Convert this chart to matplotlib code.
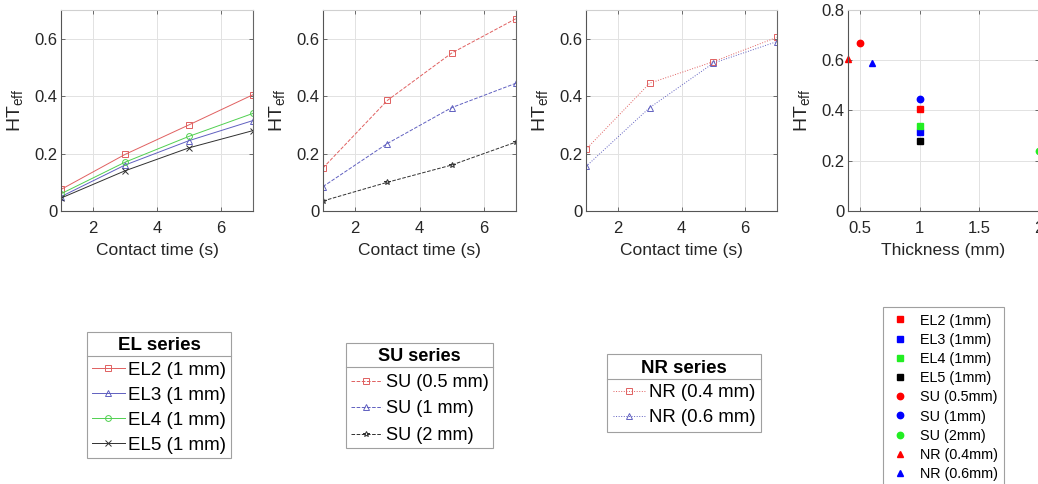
import matplotlib
matplotlib.use('Agg')
import matplotlib.pyplot as plt
from matplotlib.lines import Line2D

plt.rcParams['font.family'] = ['Liberation Sans', 'DejaVu Sans']
plt.rcParams['mathtext.fontset'] = 'custom'
plt.rcParams['mathtext.rm'] = 'Liberation Sans'
plt.rcParams['mathtext.it'] = 'Liberation Sans'

# contact times (s)
t = [1, 3, 5, 7]

# EL series (1 mm)
el2 = [0.075, 0.197, 0.300, 0.405]
el3 = [0.050, 0.160, 0.245, 0.315]
el4 = [0.060, 0.170, 0.260, 0.340]
el5 = [0.045, 0.140, 0.220, 0.280]

# SU series
su05 = [0.150, 0.385, 0.550, 0.670]
su1 = [0.085, 0.235, 0.360, 0.445]
su2 = [0.035, 0.100, 0.160, 0.240]

# NR series
nr04 = [0.215, 0.445, 0.520, 0.605]
nr06 = [0.155, 0.360, 0.515, 0.590]

# final value (t = 7 s) vs thickness
thick_labels = ['EL2 (1mm)', 'EL3 (1mm)', 'EL4 (1mm)', 'EL5 (1mm)',
                'SU (0.5mm)', 'SU (1mm)', 'SU (2mm)', 'NR (0.4mm)', 'NR (0.6mm)']
thick = [1, 1, 1, 1, 0.5, 1, 2, 0.4, 0.6]
ht_final = [0.405, 0.315, 0.340, 0.280, 0.670, 0.445, 0.240, 0.605, 0.590]

W, H = 1038, 484
fig = plt.figure(figsize=(W / 100, H / 100), dpi=100)


def px_axes(x0, y0, w, h):
    return fig.add_axes([x0 / W, 1 - (y0 + h) / H, w / W, h / H])


def style(ax):
    ax.grid(True, color='#e2e2e2', linewidth=0.7)
    ax.set_axisbelow(True)
    for s in ['left', 'bottom']:
        ax.spines[s].set_color('#555555')
    ax.spines['right'].set_color('#666666')
    ax.spines['top'].set_color('#d0d0d0')
    for s in ax.spines.values():
        s.set_linewidth(0.8)
    ax.tick_params(direction='in', length=3, width=0.6, color='#555555',
                   labelsize=12, labelcolor='#262626', top=True, right=True)
    ax.tick_params(axis='x', pad=7)
    ax.tick_params(axis='y', pad=2.5)
    ax.set_ylabel('HT$_{\\mathrm{eff}}$', fontsize=14, color='#262626', labelpad=7)


red, blue, green, blk = '#e06060', '#6060c0', '#50d050', '#303030'
mk = dict(markersize=4.2, markerfacecolor='none', linewidth=0.7, markeredgewidth=0.7)

ax1 = px_axes(61, 10, 192, 201)
ax1.plot(t, el2, '-s', color=red, label='EL2 (1 mm)', **mk)
ax1.plot(t, el3, '-^', color=blue, label='EL3 (1 mm)', **mk)
ax1.plot(t, el4, '-o', color=green, label='EL4 (1 mm)', **mk)
ax1.plot(t, el5, '-x', color=blk, label='EL5 (1 mm)', **mk)

ax2 = px_axes(323, 10, 193, 201)
ax2.plot(t, su05, '--s', color=red, label='SU (0.5 mm)', **mk)
ax2.plot(t, su1, '--^', color=blue, label='SU (1 mm)', **mk)
ax2.plot(t, su2, '--*', color=blk, label='SU (2 mm)', **mk)

ax3 = px_axes(586, 10, 191, 201)
ax3.plot(t, nr04, ':s', color=red, label='NR (0.4 mm)', **mk)
ax3.plot(t, nr06, ':^', color=blue, label='NR (0.6 mm)', **mk)

for ax in (ax1, ax2, ax3):
    style(ax)
    ax.set_xlim(1, 7)
    ax.set_ylim(0, 0.7)
    ax.set_xticks([2, 4, 6])
    ax.set_yticks([0, 0.2, 0.4, 0.6])
    ax.set_yticklabels(['0', '0.2', '0.4', '0.6'])
    ax.set_xlabel('Contact time (s)', fontsize=12.5, color='#262626', labelpad=5)

ax4 = px_axes(848, 10, 191, 201)
cols = ['#ff0000', '#0000ff', '#22ee22', '#000000',
        '#ff0000', '#0000ff', '#22ee22', '#ff0000', '#0000ff']
marks = ['s', 's', 's', 's', 'o', 'o', 'o', '^', '^']
for xv, yv, c, m, lab in zip(thick, ht_final, cols, marks, thick_labels):
    ax4.plot([xv], [yv], m, color=c, markersize=3.8 if m == 's' else 4.6,
             linestyle='none', label=lab, clip_on=False)
style(ax4)
ax4.set_xlim(0.4, 2)
ax4.set_ylim(0, 0.8)
ax4.set_xticks([0.5, 1, 1.5, 2])
ax4.set_xticklabels(['0.5', '1', '1.5', '2'])
ax4.set_yticks([0, 0.2, 0.4, 0.6, 0.8])
ax4.set_yticklabels(['0', '0.2', '0.4', '0.6', '0.8'])
ax4.set_xlabel('Thickness (mm)', fontsize=12.5, color='#262626', labelpad=5)


def add_legend(ax, title, left, top, fs, spacing, bpad=0.25):
    leg = ax.legend(title=title, loc='upper left',
                    bbox_to_anchor=(left / W, 1 - top / H),
                    bbox_transform=fig.transFigure, fontsize=fs,
                    title_fontproperties={'weight': 'bold', 'size': fs},
                    frameon=True, fancybox=False, framealpha=1,
                    edgecolor='#a0a0a0', borderpad=bpad, labelspacing=spacing,
                    borderaxespad=0, handletextpad=0.2, handlelength=1.75)
    leg.get_frame().set_linewidth(0.8)
    return leg


legs = []
legs.append(add_legend(ax1, 'EL series', 87, 332, 13.5, 0.42))
legs.append(add_legend(ax2, 'SU series', 346, 343, 13.1, 0.52))
legs.append(add_legend(ax3, 'NR series', 607, 354, 13.4, 0.42, bpad=0.3))
leg4 = ax4.legend(loc='upper left', bbox_to_anchor=(883 / W, 1 - 307 / H),
                  bbox_transform=fig.transFigure, fontsize=10.4, frameon=True,
                  fancybox=False, framealpha=1, edgecolor='#a0a0a0',
                  borderpad=0.45, labelspacing=0.36, borderaxespad=0,
                  handletextpad=0.6, handlelength=1.5)
leg4.get_frame().set_linewidth(0.8)

# separator line under each legend title
fig.canvas.draw()
r = fig.canvas.get_renderer()
for leg in legs:
    fb = leg.get_frame().get_window_extent(r)
    tb = leg.get_title().get_window_extent(r)
    yline = (tb.y0 - 2) / H
    fig.add_artist(Line2D([fb.x0 / W, fb.x1 / W], [yline, yline],
                          color='#a0a0a0', linewidth=0.8))

fig.savefig('out.png', dpi=100)
